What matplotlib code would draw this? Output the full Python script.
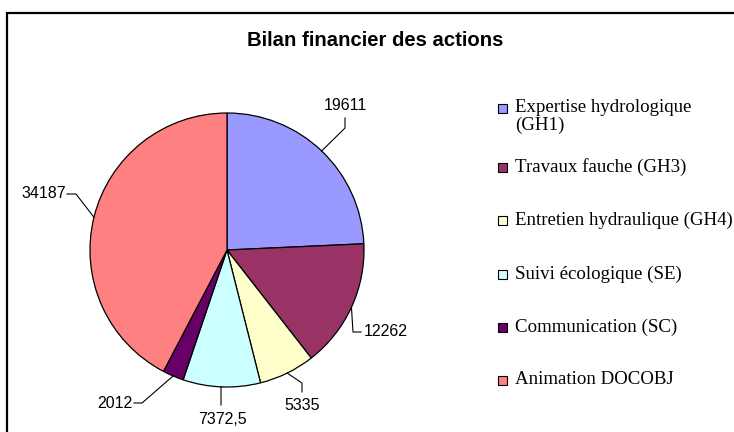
import numpy as np
import matplotlib
matplotlib.use("Agg")
import matplotlib.pyplot as plt
from matplotlib.patches import Rectangle

# ---- data ----
categories = ["Expertise hydrologique\n(GH1)", "Travaux fauche (GH3)",
              "Entretien hydraulique (GH4)", "Suivi écologique (SE)",
              "Communication (SC)", "Animation DOCOBJ"]
values = [19611, 12262, 5335, 7372.5, 2012, 34187]
colors = ["#9999FF", "#993366", "#FFFFCC", "#CCFFFF", "#660066", "#FF8080"]
title = "Bilan financier des actions"

W, H = 734, 432
fig = plt.figure(figsize=(W / 100, H / 100), dpi=100)

# pie geometry in pixels
cx, cy, R = 227, 250, 137
axp = fig.add_axes([(cx - R) / W, (H - cy - R) / H, 2 * R / W, 2 * R / H])
wedges, _ = axp.pie(values, colors=colors, startangle=90, counterclock=False,
                    radius=1, wedgeprops=dict(edgecolor="black", linewidth=0.9))
axp.set_xlim(-1, 1)
axp.set_ylim(-1, 1)
axp.axis("off")

# overlay axes in pixel coordinates
ax = fig.add_axes([0, 0, 1, 1])
ax.set_xlim(0, W)
ax.set_ylim(H, 0)
ax.axis("off")
ax.patch.set_alpha(0)

# frame (only left and top edges visible in the crop)
ax.plot([7, 7, 734], [440, 13, 13], color="black", lw=1.6,
        solid_joinstyle="miter", clip_on=False)

ax.text(375, 40, title, ha="center", va="center", fontsize=14.6,
        fontweight="bold", family="Liberation Sans")

def fmt(v):
    if float(v).is_integer():
        return str(int(v))
    return str(v).replace(".", ",")

# leader lines: (elbow points, text position, alignment)
leaders = [
    ([(345, 128), (345, 118)], (345, 105), "center"),
    ([(353, 332), (361, 332)], (364, 332), "left"),
    ([(302, 383), (302, 392)], (302, 405), "center"),
    ([(221, 387), (221, 405)], (222, 420), "center"),
    ([(142, 403), (134, 403)], (133, 403), "right"),
    ([(76, 194), (67, 194)], (66, 194), "right"),
]
for w, v, (pts, tpos, ha) in zip(wedges, values, leaders):
    mid = np.deg2rad((w.theta1 + w.theta2) / 2)
    ex, ey = cx + R * np.cos(mid), cy - R * np.sin(mid)
    xs = [ex] + [p[0] for p in pts]
    ys = [ey] + [p[1] for p in pts]
    ax.plot(xs, ys, color="black", lw=0.8)
    ax.text(tpos[0], tpos[1], fmt(v), ha=ha, va="center", fontsize=11.5,
            family="Liberation Sans")

# legend
rows = [108, 167, 220, 274, 327, 380]
for lab, col, ry in zip(categories, colors, rows):
    ax.add_patch(Rectangle((498, ry - 4.5), 9, 9, facecolor=col,
                           edgecolor="black", lw=0.8))
    for k, line in enumerate(lab.split("\n")):
        ax.text(515, ry + 17 * k, line, ha="left", va="center", fontsize=13.6,
                family="Liberation Serif")

fig.savefig("out.png", dpi=100)
